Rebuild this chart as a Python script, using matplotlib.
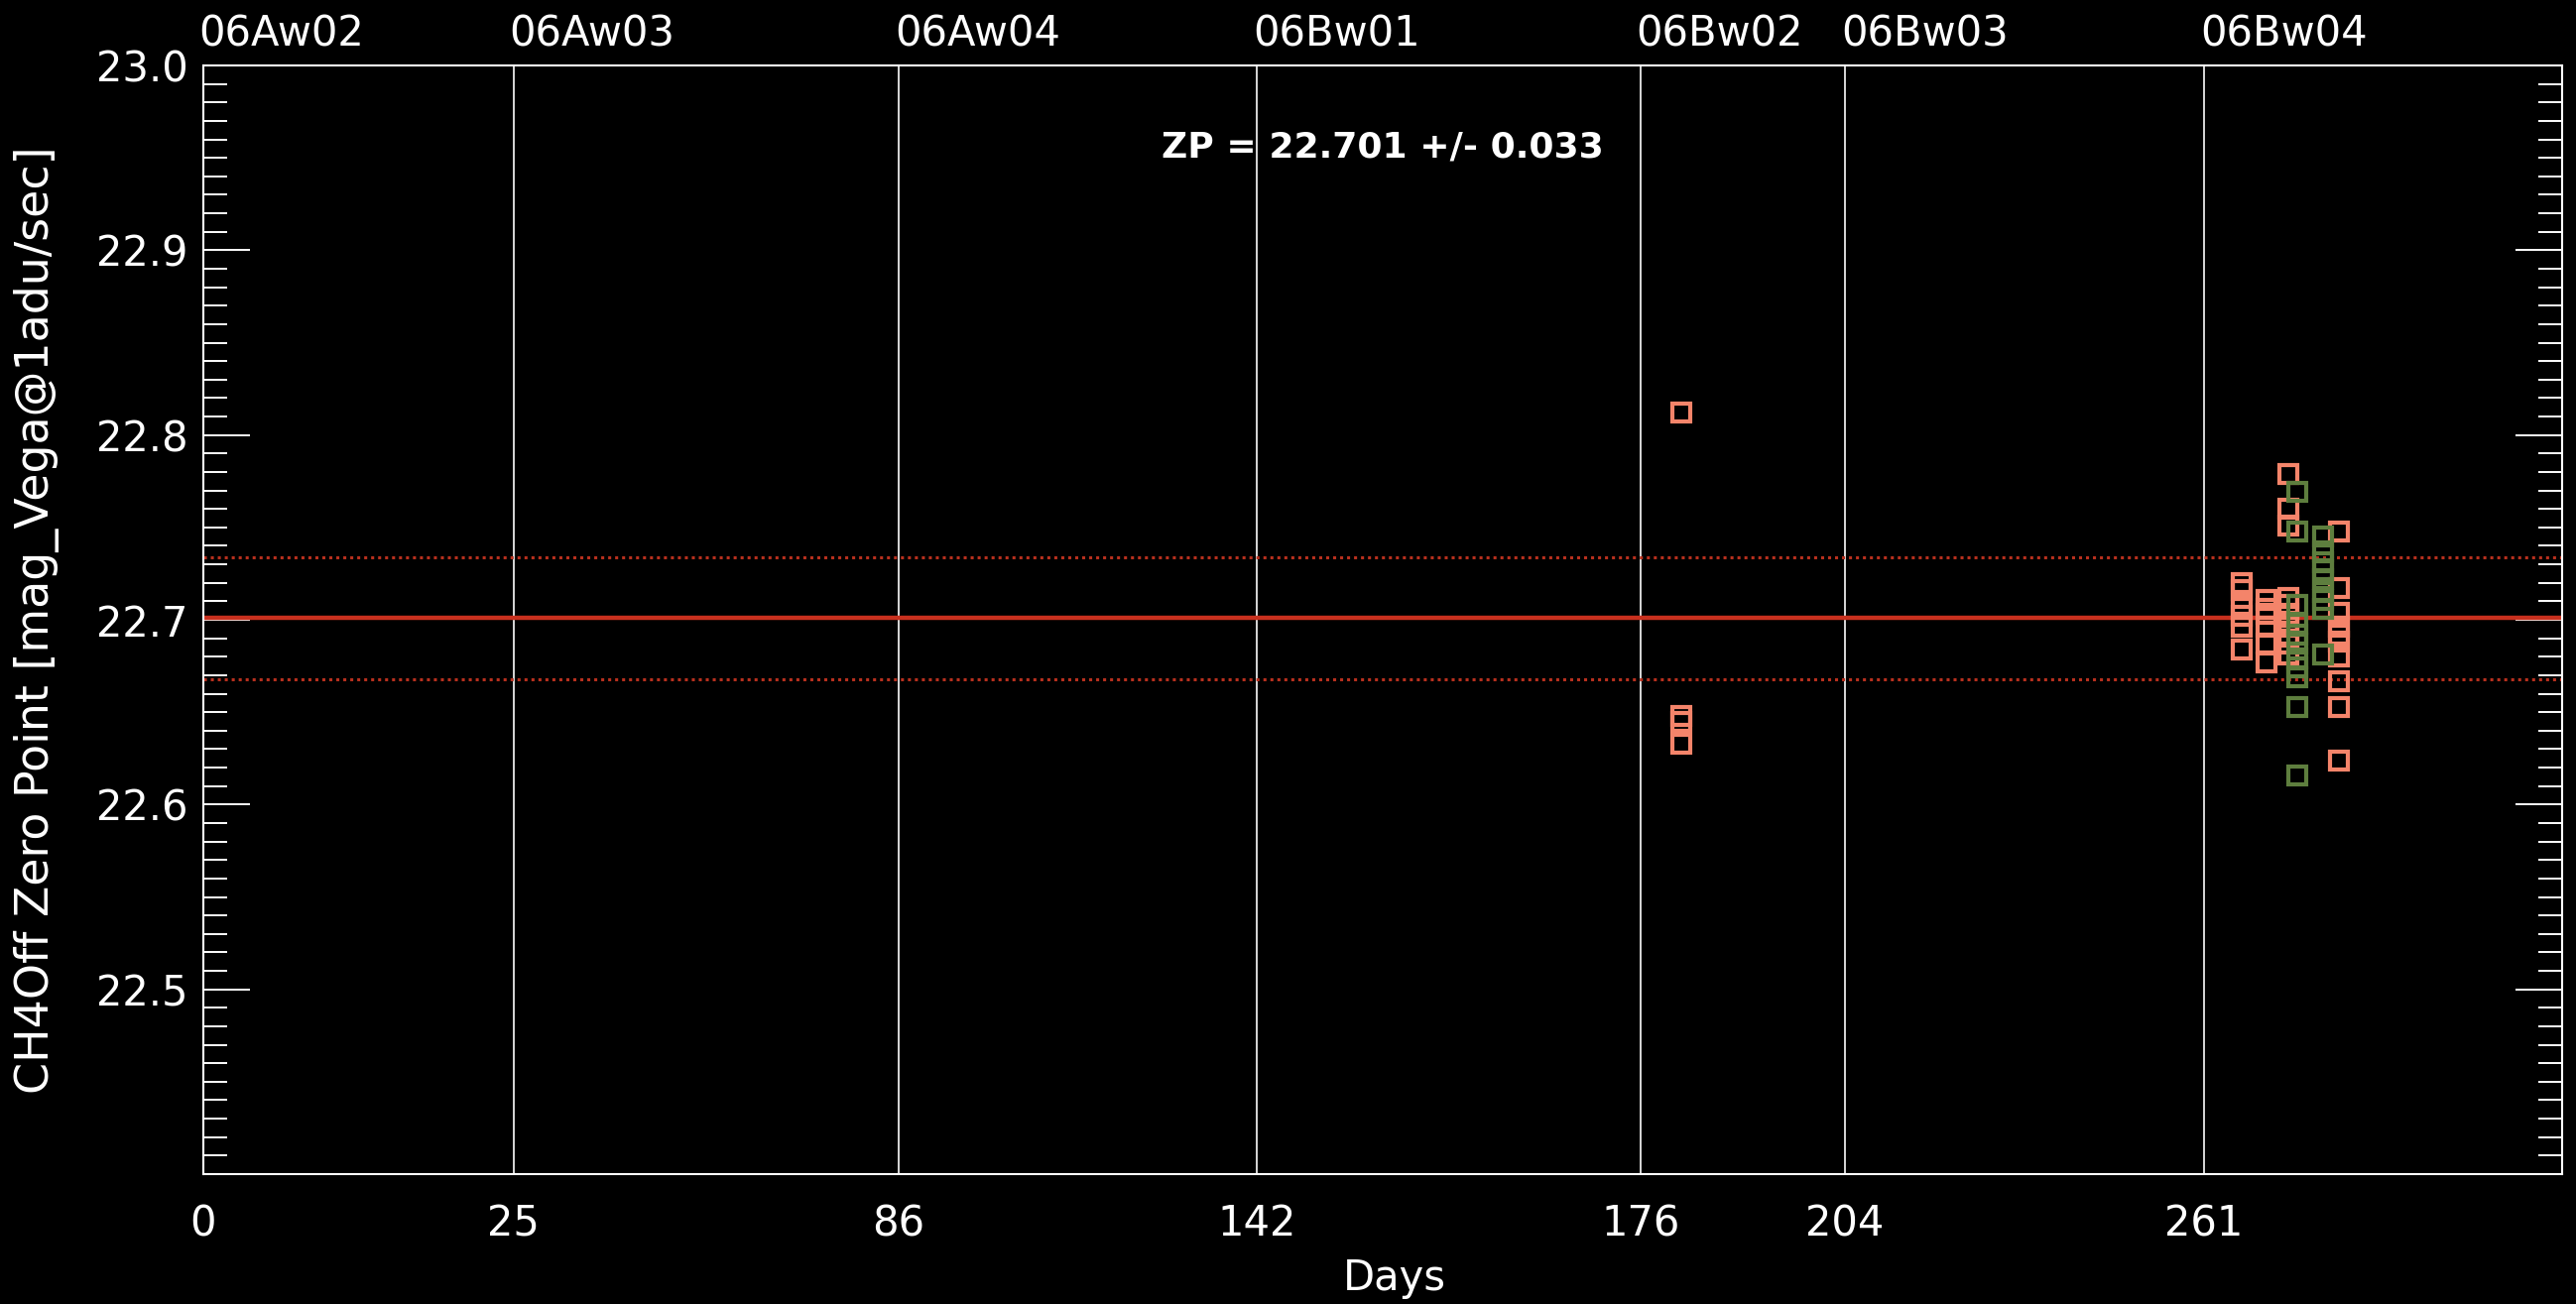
#!/usr/bin/env python3
"""CH4Off zero point per exposure over the 2006 queue runs."""

import matplotlib

matplotlib.use("Agg")
import matplotlib.pyplot as plt
import numpy as np
from matplotlib.ticker import FuncFormatter, MultipleLocator

# queue weeks and the day each one starts
WEEK_NAMES = ["06Aw02", "06Aw03", "06Aw04", "06Bw01", "06Bw02", "06Bw03", "06Bw04"]
WEEK_START = [0, 25, 86, 142, 176, 204, 261]
LAST_DAY = 318

ZP_MEAN = 22.701
ZP_RMS = 0.033

# zero points, first detector set
ORANGE_DAY = [
    181.6, 181.6, 181.6, 181.6,
    267.0, 267.0, 267.0, 267.0, 267.0, 267.0,
    270.9, 270.9, 270.9, 270.9, 270.9, 270.9,
    274.5, 274.5, 274.5, 274.5, 274.5, 274.5, 274.5, 274.5, 274.5, 274.5, 274.5,
    282.4, 282.4, 282.4, 282.4, 282.4, 282.4, 282.4, 282.4, 282.4, 282.4,
]
ORANGE_ZP = [
    22.812, 22.648, 22.645, 22.633,
    22.720, 22.716, 22.708, 22.702, 22.696, 22.684,
    22.711, 22.706, 22.703, 22.696, 22.687, 22.677,
    22.779, 22.760, 22.751, 22.712, 22.708, 22.703, 22.699, 22.696, 22.692, 22.687, 22.681,
    22.748, 22.717, 22.704, 22.696, 22.692, 22.688, 22.680, 22.667, 22.653, 22.624,
]

# zero points, second detector set
GREEN_DAY = [
    275.9, 275.9, 275.9, 275.9, 275.9, 275.9, 275.9, 275.9, 275.9, 275.9, 275.9,
    280.0, 280.0, 280.0, 280.0, 280.0, 280.0, 280.0, 280.0, 280.0,
]
GREEN_ZP = [
    22.769, 22.748, 22.708, 22.698, 22.692, 22.687, 22.679, 22.674, 22.669, 22.653, 22.616,
    22.745, 22.737, 22.731, 22.727, 22.722, 22.715, 22.711, 22.706, 22.681,
]

# the time axis is stretched so that each week block keeps its own width
KNOT_DAY = WEEK_START + [LAST_DAY]
KNOT_POS = [0.0, 0.1316, 0.2948, 0.4466, 0.6093, 0.6960, 0.8482, 1.0]


def piecewise(x, xp, fp):
    x = np.asarray(x, dtype=float)
    y = np.interp(x, xp, fp)
    lo = (fp[1] - fp[0]) / (xp[1] - xp[0])
    hi = (fp[-1] - fp[-2]) / (xp[-1] - xp[-2])
    y = np.where(x < xp[0], fp[0] + (x - xp[0]) * lo, y)
    y = np.where(x > xp[-1], fp[-1] + (x - xp[-1]) * hi, y)
    return y


def day_to_pos(d):
    return piecewise(d, KNOT_DAY, KNOT_POS)


def pos_to_day(p):
    return piecewise(p, KNOT_POS, KNOT_DAY)


FG = "white"
FS = 30

fig = plt.figure(figsize=(25.97, 13.15), dpi=100, facecolor="black")
ax = fig.add_axes([0.0789, 0.0996, 0.9157, 0.8502], facecolor="black")
ax.set_xscale("function", functions=(day_to_pos, pos_to_day))
ax.set_xlim(0, LAST_DAY)
ax.set_ylim(22.4, 23.0)

for d in WEEK_START[1:]:
    ax.axvline(d, color="#d8d8d8", lw=1.4, zorder=1)

ax.axhline(ZP_MEAN, color="#c8301e", lw=3.2, zorder=2)
for off in (-ZP_RMS, ZP_RMS):
    ax.axhline(ZP_MEAN + off, color="#b8301e", lw=2.2, ls=(0, (1, 1.3)), zorder=2)

ax.plot(ORANGE_DAY, ORANGE_ZP, "s", ls="none", mfc="none", mec="#f4846a",
        mew=3.0, ms=13, zorder=3)
ax.plot(GREEN_DAY, GREEN_ZP, "s", ls="none", mfc="none", mec="#5e7e3e",
        mew=3.0, ms=13, zorder=3)

ax.text(0.5, 0.926, f"ZP = {ZP_MEAN:.3f} +/- {ZP_RMS:.3f}", transform=ax.transAxes,
        ha="center", va="center", color=FG, fontsize=26, fontweight="bold")

for name, d in zip(WEEK_NAMES, WEEK_START):
    ax.annotate(name, xy=(d, 1.0), xycoords=("data", "axes fraction"),
                xytext=(-3, 23), textcoords="offset points",
                ha="left", va="center", color=FG, fontsize=FS)

ax.set_xticks(WEEK_START)
ax.set_xticklabels([str(d) for d in WEEK_START])
ax.xaxis.set_minor_locator(plt.NullLocator())
ax.tick_params(axis="x", length=0, pad=21, labelsize=FS, colors=FG)

ax.yaxis.set_major_locator(MultipleLocator(0.1))
ax.yaxis.set_minor_locator(MultipleLocator(0.01))
ax.yaxis.set_major_formatter(
    FuncFormatter(lambda v, _: "" if v < 22.45 else f"{v:.1f}"))
ax.tick_params(axis="y", which="both", direction="in", left=True, right=True,
               colors=FG, labelsize=FS, width=1.4)
ax.tick_params(axis="y", which="major", length=34, pad=11)
ax.tick_params(axis="y", which="minor", length=17)

for sp in ax.spines.values():
    sp.set_color(FG)
    sp.set_linewidth(1.5)

ax.text(-0.0705, 0.5, "CH4Off Zero Point [mag_Vega@1adu/sec]", transform=ax.transAxes,
        rotation=90, ha="center", va="center", color=FG, fontsize=33)
ax.text(0.505, -0.094, "Days", transform=ax.transAxes,
        ha="center", va="center", color=FG, fontsize=FS)

fig.savefig("out.png", dpi=100, facecolor="black")
